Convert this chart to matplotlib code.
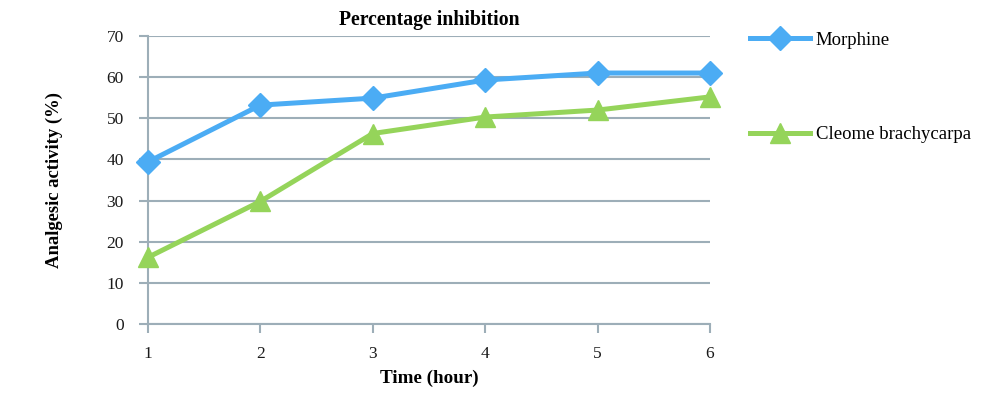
import matplotlib
matplotlib.use("Agg")
import matplotlib.pyplot as plt

hours = [1, 2, 3, 4, 5, 6]
morphine = [39.4, 53.2, 54.9, 59.3, 61.0, 61.0]
cleome = [16.2, 29.8, 46.3, 50.3, 52.0, 55.2]
series_names = ["Morphine", "Cleome brachycarpa"]
y_ticks = [0, 10, 20, 30, 40, 50, 60, 70]

BLUE = "#4BACF4"
GREEN = "#95D45A"
GRID = "#9DAEB8"
SERIF = ["Liberation Serif", "DejaVu Serif"]

fig = plt.figure(figsize=(10, 3.93), dpi=100)
ax = fig.add_axes([0.148, 0.1756, 0.562, 0.7328])

ax.plot(hours, morphine, color=BLUE, lw=3.6, marker="D", ms=12, mec=BLUE,
        mfc=BLUE, clip_on=False, zorder=4, label=series_names[0])
ax.plot(hours, cleome, color=GREEN, lw=3.6, marker="^", ms=15, mec=GREEN,
        mfc=GREEN, clip_on=False, zorder=4, label=series_names[1])

ax.set_xlim(1, 6)
ax.set_ylim(0, 70)
ax.set_yticks(y_ticks)
ax.set_xticks(hours)
ax.grid(axis="y", color=GRID, lw=1.5)
ax.set_axisbelow(True)
for s in ["top", "right"]:
    ax.spines[s].set_visible(False)
for s in ["left", "bottom"]:
    ax.spines[s].set_color(GRID)
    ax.spines[s].set_linewidth(1.5)
ax.tick_params(axis="both", direction="out", length=6.5, width=1.5, color=GRID,
               labelsize=12.5, labelcolor="#1a1a1a")
ax.tick_params(axis="y", pad=11)
ax.tick_params(axis="x", pad=9)
for lab in ax.get_xticklabels() + ax.get_yticklabels():
    lab.set_family(SERIF)

ax.set_title("Percentage inhibition", family=SERIF, fontweight="bold",
             fontsize=14.2, pad=8)
ax.set_xlabel("Time (hour)", family=SERIF, fontweight="bold", fontsize=13.7,
              labelpad=6)
ax.set_ylabel("Analgesic activity (%)", family=SERIF, fontweight="bold",
              fontsize=13.4, labelpad=31)

leg = fig.legend(loc="upper left", bbox_to_anchor=(0.733, 0.962),
                 frameon=False, handlelength=3.2, labelspacing=4.12,
                 prop={"family": SERIF, "size": 13.5}, handletextpad=0.3)

fig.savefig("out.png", dpi=100)
